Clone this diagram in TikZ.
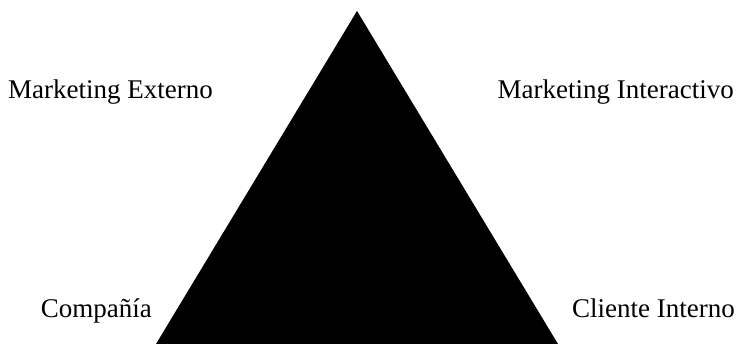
\documentclass[tikz,border=0pt]{standalone}
\usepackage{fontspec}
\setmainfont{Liberation Serif}
\usetikzlibrary{positioning}

\begin{document}
\begin{tikzpicture}[x=1pt,y=-1pt,lbl/.style={font=\fontsize{27}{32}\selectfont,inner sep=0pt}]
\useasboundingbox (0,0) rectangle (737,344);
\coordinate (apex) at (357,11);
\coordinate (bl) at (156,344);
\coordinate (br) at (558,344);
\fill[black] (apex) -- (br) -- (bl) -- cycle;
\node[lbl,anchor=base west] (ext) at (8,99) {Marketing Externo};
\node[lbl,anchor=base east] (inter) at (734,99) {Marketing Interactivo};
\node[lbl,anchor=base east] (comp) at (152,318) {Compañía};
\node[lbl,anchor=base east] (cli) at (735,318) {Cliente Interno};
\end{tikzpicture}
\end{document}
